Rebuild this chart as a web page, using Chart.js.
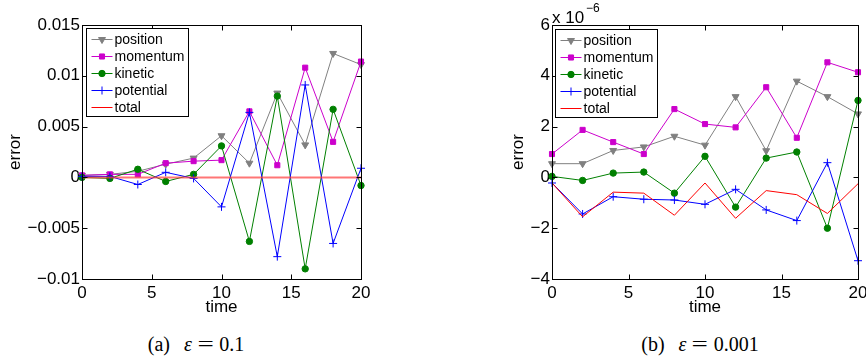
<!DOCTYPE html>
<html>
<head>
<meta charset="utf-8">
<script src="https://cdn.jsdelivr.net/npm/chart.js@4.4.1/dist/chart.umd.min.js"></script>
<style>
  html, body { margin: 0; padding: 0; background: #fff; width: 866px; height: 362px; overflow: hidden; }
  .panel { position: absolute; top: 0; }
  .cap { position: absolute; top: 334px; width: 300px; text-align: center; color: #000; white-space: nowrap;
         font-family: "Liberation Serif", "DejaVu Serif", serif; font-size: 20px; line-height: 20px; }
  .cap i { margin-left: 14px; margin-right: 6px; }
  .cap .eq { display: inline-block; transform: scaleX(1.45); margin-right: 8px; margin-left: 2px; }
</style>
</head>
<body>
<div class="panel" style="left:0"><canvas id="chartA" width="430" height="320"></canvas></div>
<div class="panel" style="left:430px"><canvas id="chartB" width="450" height="320"></canvas></div>
<div class="cap" style="left:46px">(a)<i>ε</i><span class="eq">=</span>0.1</div>
<div class="cap" style="left:550px">(b)<i>ε</i><span class="eq">=</span>0.001</div>

<script>
/* ---------- data ---------- */
const times = [0, 2, 4, 6, 8, 10, 12, 14, 16, 18, 20];
const seriesNames = ["position", "momentum", "kinetic", "potential", "total"];
const xTicks = [0, 5, 10, 15, 20];

// (a) eps = 0.1
const positionA  = [0.0002, 0.0003, 0.0006, 0.0013, 0.0019, 0.0041, 0.0014, 0.0083, 0.0032, 0.0122, 0.0111];
const momentumA  = [0.0002, 0.0003, 0.0003, 0.0014, 0.0016, 0.0017, 0.0065, 0.0012, 0.0108, 0.0035, 0.0114];
const kineticA   = [0.0000, -0.0001, 0.0008, -0.0004, 0.0003, 0.0031, -0.0063, 0.0080, -0.0090, 0.0067, -0.0008];
const potentialA = [0.0001, 0.0001, -0.0007, 0.0005, -0.0001, -0.0029, 0.0064, -0.0078, 0.0091, -0.0065, 0.0009];
const totalA     = [0, 0, 0, 0, 0, 0, 0, 0, 0, 0, 0];
const yTicksA  = [-0.01, -0.005, 0, 0.005, 0.01, 0.015];
const yLabelsA = ["\u22120.01", "\u22120.005", "0", "0.005", "0.01", "0.015"];

// (b) eps = 0.001, values in units of 1e-6
const positionB  = [0.54, 0.54, 1.06, 1.20, 1.62, 1.27, 3.18, 1.05, 3.79, 3.18, 2.50];
const momentumB  = [0.92, 1.87, 1.39, 0.92, 2.69, 2.10, 1.97, 3.55, 1.56, 4.53, 4.14];
const kineticB   = [0.04, -0.12, 0.17, 0.21, -0.62, 0.83, -1.17, 0.76, 1.00, -2.00, 3.03];
const potentialB = [-0.22, -1.44, -0.76, -0.86, -0.89, -1.06, -0.47, -1.28, -1.70, 0.58, -3.28];
const totalB     = [-0.22, -1.55, -0.58, -0.62, -1.49, -0.22, -1.61, -0.52, -0.68, -1.42, -0.25];
const yTicksB  = [-4, -2, 0, 2, 4, 6];
const yLabelsB = ["\u22124", "\u22122", "0", "2", "4", "6"];

/* ---------- styles ---------- */
const FONT = '"Liberation Sans", Arial, sans-serif';
const marks = [
  { color: "#808080", pointStyle: "triangle", rotation: 180, radius: 4 },
  { color: "#cc00cc", pointStyle: "rect", rotation: 0, radius: 3.6 },
  { color: "#008000", pointStyle: "circle", rotation: 0, radius: 3.2 },
  { color: "#0000ff", pointStyle: "cross", rotation: 0, radius: 4 },
  { color: "#ff0000", pointStyle: false, rotation: 0, radius: 0 },
];

function makeDatasets(seriesList, totalWidth, totalColor) {
  return seriesList.map((vals, i) => ({
    label: seriesNames[i],
    data: times.map((t, k) => ({ x: t, y: vals[k] })),
    borderColor: i === 4 ? totalColor : marks[i].color,
    backgroundColor: marks[i].color,
    borderWidth: i === 4 ? totalWidth : 1,
    pointStyle: marks[i].pointStyle,
    pointRotation: marks[i].rotation,
    pointRadius: marks[i].radius,
    pointBorderWidth: 1,
    pointBorderColor: marks[i].color,
    pointBackgroundColor: marks[i].color,
    tension: 0,
    clip: false,
    order: 4 - i, // later series on top, like the original
  }));
}

/* ---------- box, inward ticks, legend, exponent ---------- */
const framePlugin = {
  id: "frame",
  afterDatasetsDraw(chart, args, opts) {
    const { ctx, chartArea: a, scales } = chart;
    const L = Math.round(a.left) + 0.5, R = Math.round(a.right) + 0.5;
    const T = Math.round(a.top) + 0.5, B = Math.round(a.bottom) + 0.5;
    ctx.save();
    ctx.strokeStyle = "#000";
    ctx.lineWidth = 1;
    ctx.strokeRect(L, T, R - L, B - T);
    ctx.beginPath();
    scales.x.ticks.forEach(t => {
      const px = Math.round(scales.x.getPixelForValue(t.value)) + 0.5;
      ctx.moveTo(px, B); ctx.lineTo(px, B - 5);
      ctx.moveTo(px, T); ctx.lineTo(px, T + 5);
    });
    scales.y.ticks.forEach(t => {
      const py = Math.round(scales.y.getPixelForValue(t.value)) + 0.5;
      ctx.moveTo(L, py); ctx.lineTo(L + 5, py);
      ctx.moveTo(R, py); ctx.lineTo(R - 5, py);
    });
    ctx.stroke();

    // legend box
    const lx = Math.round(a.left + opts.dx) + 0.5, ly = Math.round(a.top + opts.dy) + 0.5;
    const lw = 102, lh = 88;
    ctx.fillStyle = "#fff";
    ctx.fillRect(lx, ly, lw, lh);
    ctx.strokeStyle = "#000";
    ctx.strokeRect(lx, ly, lw, lh);
    ctx.font = "14px " + FONT;
    ctx.textBaseline = "middle";
    seriesNames.forEach((name, i) => {
      const y = Math.round(ly + 10 + i * 17.2) + 0.5;
      const m = marks[i];
      ctx.strokeStyle = m.color;
      ctx.fillStyle = m.color;
      ctx.lineWidth = 1;
      ctx.beginPath();
      ctx.moveTo(lx + 5, y);
      ctx.lineTo(lx + 26, y);
      ctx.stroke();
      if (m.pointStyle) {
        Chart.helpers.drawPoint(ctx, {
          pointStyle: m.pointStyle, rotation: m.rotation, radius: m.radius, borderWidth: 1,
        }, lx + 15.5, y);
      }
      ctx.fillStyle = "#000";
      ctx.fillText(name, lx + 28, y + 0.5);
    });

    // axis multiplier
    if (opts.exponent) {
      ctx.fillStyle = "#000";
      ctx.textBaseline = "alphabetic";
      ctx.font = "17px " + FONT;
      ctx.fillText("x 10", a.left, 23);
      ctx.font = "12px " + FONT;
      ctx.fillText(opts.exponent, a.left + 34, 12);
    }
    ctx.restore();
  },
};

function buildChart(id, datasets, yMin, yMax, yTicks, yLabels, padding, yWidth, titlePad, frameOpts) {
  const ctx = document.getElementById(id).getContext("2d");
  return new Chart(ctx, {
    type: "line",
    data: { datasets },
    plugins: [framePlugin],
    options: {
      responsive: false,
      animation: false,
      events: [],
      layout: { padding },
      plugins: { legend: { display: false }, tooltip: { enabled: false }, frame: frameOpts },
      scales: {
        x: {
          type: "linear", min: 0, max: 20,
          afterBuildTicks: s => { s.ticks = xTicks.map(v => ({ value: v })); },
          afterFit: s => { s.height = 41; },
          grid: { display: false, drawTicks: false },
          border: { display: false },
          ticks: { color: "#000", padding: 4, font: { family: FONT, size: 17 }, maxRotation: 0,
                   callback: v => String(v) },
          title: { display: true, text: "time", color: "#000", padding: { top: 0, bottom: 2 },
                   font: { family: FONT, size: 17 } },
        },
        y: {
          type: "linear", min: yMin, max: yMax,
          afterBuildTicks: s => { s.ticks = yTicks.map(v => ({ value: v })); },
          afterFit: s => { s.width = yWidth; },
          grid: { display: false, drawTicks: false },
          border: { display: false },
          ticks: { color: "#000", padding: 2, font: { family: FONT, size: 17 },
                   callback: (v, i) => yLabels[i] },
          title: { display: true, text: "error", color: "#000", padding: { top: titlePad, bottom: 0 },
                   font: { family: FONT, size: 17 } },
        },
      },
    },
  });
}

buildChart("chartA",
  makeDatasets([positionA, momentumA, kineticA, potentialA, totalA], 2, "rgba(255,60,60,0.7)"),
  -0.01, 0.015, yTicksA, yLabelsA,
  { left: 0, top: 25, right: 69, bottom: 0 }, 82, 5,
  { dx: 4, dy: 3 });

buildChart("chartB",
  makeDatasets([positionB, momentumB, kineticB, potentialB, totalB], 1, "#ff0000"),
  -4, 6, yTicksB, yLabelsB,
  { left: 70, top: 25, right: 22, bottom: 0 }, 52, 8,
  { dx: 3, dy: 4, exponent: "\u22126" });
</script>
</body>
</html>
